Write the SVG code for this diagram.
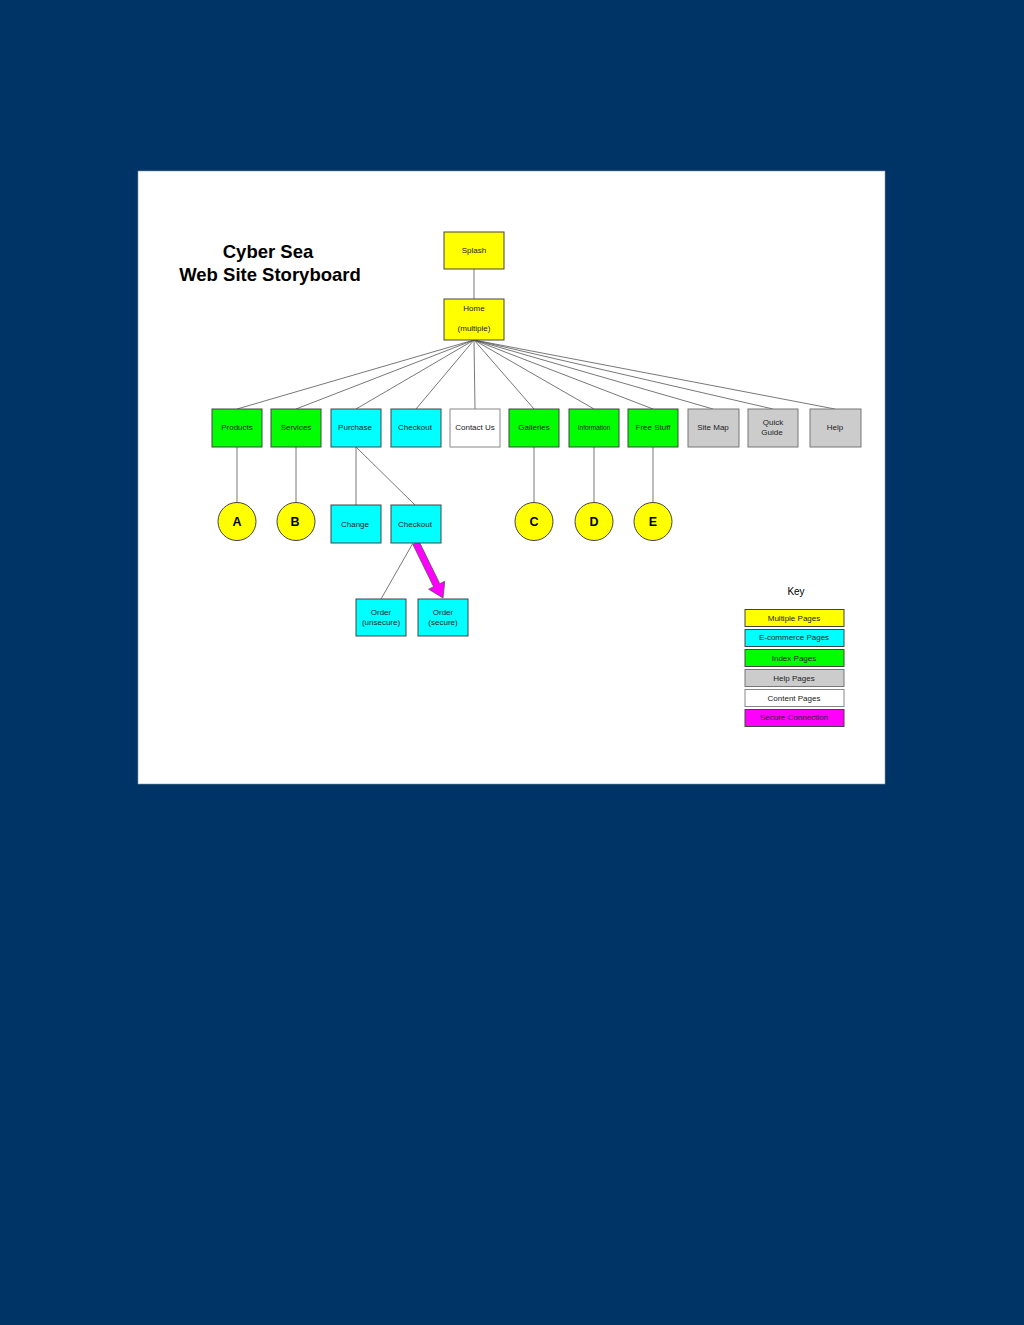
<svg xmlns="http://www.w3.org/2000/svg" width="1024" height="1325" viewBox="0 0 1024 1325">
<style>
.n{stroke:#444;stroke-width:1}
.y{fill:#ffff00}.c{fill:#00ffff}.g{fill:#00ff00}.h{fill:#cccccc;stroke:#777}.w{fill:#ffffff;stroke:#888}.m{fill:#ff00ff}
.t{font-family:"Liberation Sans",Arial,sans-serif;font-size:8px;fill:#222;text-anchor:middle}
.l{font-family:"Liberation Sans",Arial,sans-serif;font-size:12.5px;font-weight:bold;fill:#000;text-anchor:middle}
.ttl{font-family:"Liberation Sans",Arial,sans-serif;font-size:18.5px;font-weight:bold;fill:#000;text-anchor:middle}
.k line,.k path{stroke:#555;stroke-width:0.8;fill:none}
</style>
<rect x="0" y="0" width="1024" height="1325" fill="#003366"/>
<rect x="138" y="171" width="747" height="613" fill="#ffffff" stroke="#8899aa" stroke-width="0.6"/>
<g id="title">
<text class="ttl" x="268" y="258">Cyber Sea</text>
<text class="ttl" x="270" y="281">Web Site Storyboard</text>
</g>
<g id="connectors" class="k">
<line x1="474" y1="269" x2="474" y2="299"/>
<line x1="474" y1="340" x2="237" y2="409"/>
<line x1="474" y1="340" x2="296" y2="409"/>
<line x1="474" y1="340" x2="356" y2="409"/>
<line x1="474" y1="340" x2="416" y2="409"/>
<line x1="474" y1="340" x2="475" y2="409"/>
<line x1="474" y1="340" x2="534" y2="409"/>
<line x1="474" y1="340" x2="594" y2="409"/>
<line x1="474" y1="340" x2="653" y2="409"/>
<line x1="474" y1="340" x2="713" y2="409"/>
<line x1="474" y1="340" x2="773" y2="409"/>
<line x1="474" y1="340" x2="835" y2="409"/>
<line x1="237" y1="447" x2="237" y2="503"/>
<line x1="296" y1="447" x2="296" y2="503"/>
<line x1="534" y1="447" x2="534" y2="503"/>
<line x1="594" y1="447" x2="594" y2="503"/>
<line x1="653" y1="447" x2="653" y2="503"/>
<line x1="356" y1="447" x2="356" y2="505"/>
<line x1="356" y1="447" x2="415" y2="505"/>
<line x1="413" y1="543" x2="381" y2="599"/>
<polygon points="412.9,544.5 419.1,541.5 439.8,583.7 444.8,581.2 443,598 428.6,589.2 433.6,586.7" fill="#ff00ff" stroke="#555" stroke-width="0.8"/>
</g>
<g id="splash"><rect class="n y" x="444" y="232" width="60" height="37"/><text class="t" x="474" y="253">Splash</text></g>
<g id="home"><rect class="n y" x="444" y="299" width="60" height="41"/><text class="t" x="474" y="311">Home</text><text class="t" x="474" y="331">(multiple)</text></g>
<g id="products"><rect class="n g" x="212" y="409" width="50" height="38"/><text class="t" x="237" y="430">Products</text></g>
<g id="services"><rect class="n g" x="271" y="409" width="50" height="38"/><text class="t" x="296" y="430">Services</text></g>
<g id="purchase"><rect class="n c" x="331" y="409" width="50" height="38"/><text class="t" x="355" y="430">Purchase</text></g>
<g id="checkout"><rect class="n c" x="391" y="409" width="50" height="38"/><text class="t" x="415" y="430">Checkout</text></g>
<g id="contact"><rect class="n w" x="450" y="409" width="50" height="38"/><text class="t" x="475" y="430">Contact Us</text></g>
<g id="galleries"><rect class="n g" x="509" y="409" width="50" height="38"/><text class="t" x="534" y="430">Galleries</text></g>
<g id="information"><rect class="n g" x="569" y="409" width="50" height="38"/><text class="t" x="594" y="430" style="font-size:6.5px">Information</text></g>
<g id="freestuff"><rect class="n g" x="628" y="409" width="50" height="38"/><text class="t" x="653" y="430">Free Stuff</text></g>
<g id="sitemap"><rect class="n h" x="688" y="409" width="51" height="38"/><text class="t" x="713" y="430">Site Map</text></g>
<g id="quickguide"><rect class="n h" x="748" y="409" width="50" height="38"/><text class="t" x="773" y="425">Quick</text><text class="t" x="772" y="435">Guide</text></g>
<g id="help"><rect class="n h" x="810" y="409" width="51" height="38"/><text class="t" x="835" y="430">Help</text></g>
<g id="A"><circle class="n y" cx="237" cy="521.5" r="19"/><text class="l" x="237" y="526">A</text></g>
<g id="B"><circle class="n y" cx="296" cy="521.5" r="19"/><text class="l" x="295" y="526">B</text></g>
<g id="C"><circle class="n y" cx="534" cy="521.5" r="19"/><text class="l" x="534" y="526">C</text></g>
<g id="D"><circle class="n y" cx="594" cy="521.5" r="19"/><text class="l" x="594" y="526">D</text></g>
<g id="E"><circle class="n y" cx="653" cy="521.5" r="19"/><text class="l" x="653" y="526">E</text></g>
<g id="change"><rect class="n c" x="331" y="505" width="50" height="38"/><text class="t" x="355" y="527">Change</text></g>
<g id="checkout2"><rect class="n c" x="391" y="505" width="50" height="38"/><text class="t" x="415" y="527">Checkout</text></g>
<g id="order-unsecure"><rect class="n c" x="356" y="599" width="50" height="37"/><text class="t" x="381" y="615">Order</text><text class="t" x="381" y="625">(unsecure)</text></g>
<g id="order-secure"><rect class="n c" x="418" y="599" width="50" height="37"/><text class="t" x="443" y="615">Order</text><text class="t" x="443" y="625">(secure)</text></g>
<g id="key">
<text x="796" y="595" style="font-family:'Liberation Sans',Arial,sans-serif;font-size:10px;fill:#000;text-anchor:middle">Key</text>
<rect class="n y" x="745" y="609.5" width="99" height="17"/><text class="t" x="794" y="621">Multiple Pages</text>
<rect class="n c" x="745" y="629.5" width="99" height="17"/><text class="t" x="794" y="640">E-commerce Pages</text>
<rect class="n g" x="745" y="649.5" width="99" height="17"/><text class="t" x="794" y="661">Index Pages</text>
<rect class="n h" x="745" y="669.5" width="99" height="17"/><text class="t" x="794" y="681">Help Pages</text>
<rect class="n w" x="745" y="689.5" width="99" height="17"/><text class="t" x="794" y="701">Content Pages</text>
<rect class="n m" x="745" y="709.5" width="99" height="17"/><text class="t" x="794" y="720">Secure Connection</text>
</g>
</svg>
